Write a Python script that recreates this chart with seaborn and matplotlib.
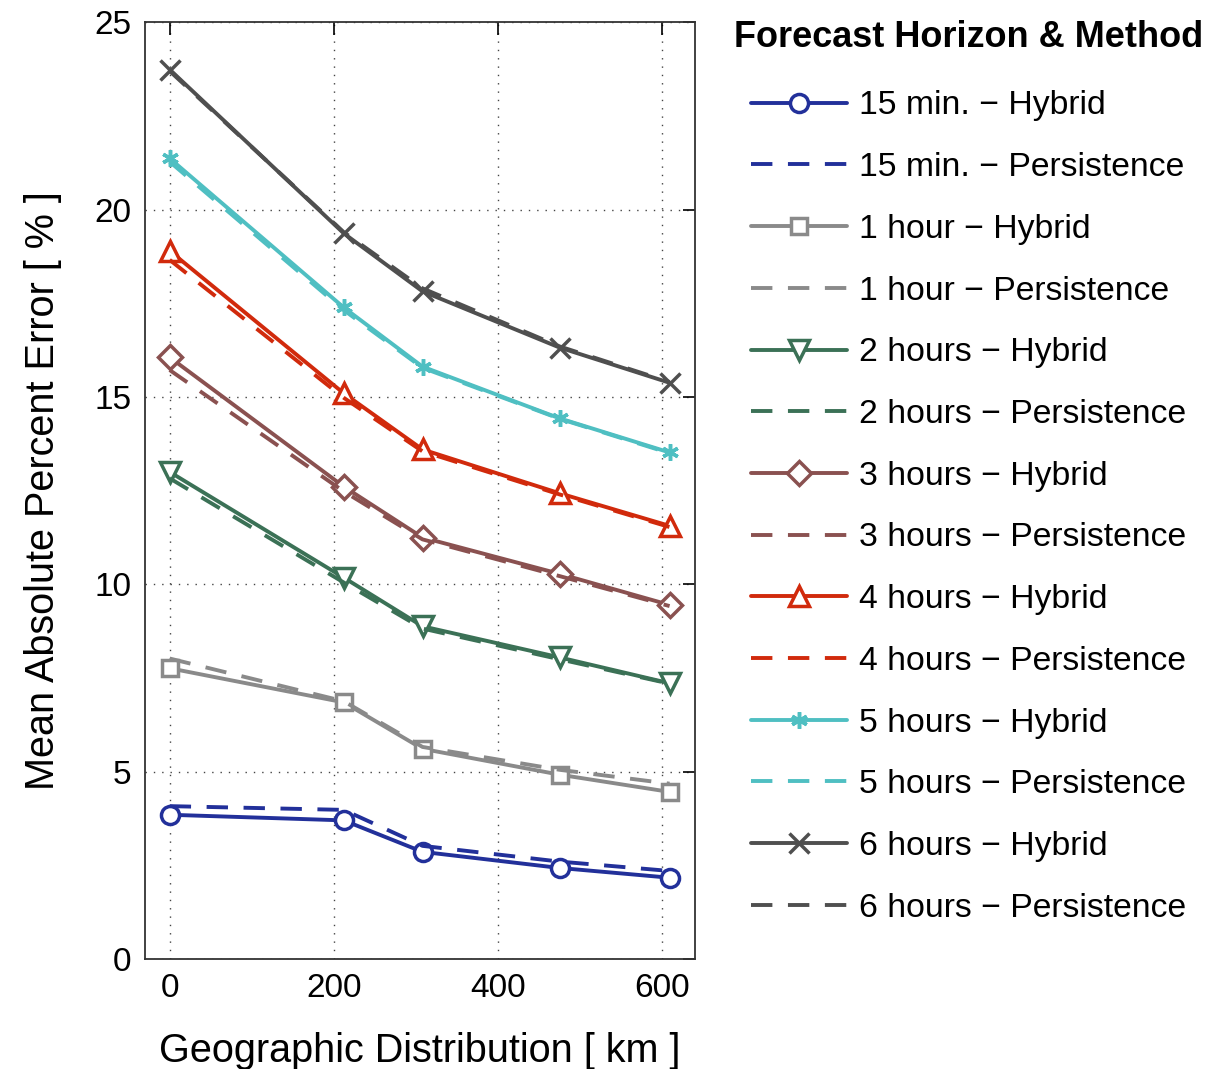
import matplotlib
matplotlib.use("Agg")
import matplotlib.pyplot as plt
import seaborn as sns

# Geographic distribution [km] and mean absolute percent error [%]
distance_km = [0, 212, 308, 475, 609]

horizons = ["15 min.", "1 hour", "2 hours", "3 hours", "4 hours", "5 hours", "6 hours"]

hybrid_15min = [3.85, 3.70, 2.86, 2.43, 2.17]
persist_15min = [4.08, 3.98, 3.02, 2.60, 2.35]
hybrid_1h = [7.76, 6.85, 5.61, 4.92, 4.46]
persist_1h = [8.02, 6.88, 5.66, 5.05, 4.68]
hybrid_2h = [13.00, 10.18, 8.88, 8.05, 7.36]
persist_2h = [12.83, 10.05, 8.82, 8.00, 7.35]
hybrid_3h = [16.06, 12.61, 11.25, 10.28, 9.45]
persist_3h = [15.72, 12.48, 11.20, 10.22, 9.42]
hybrid_4h = [18.90, 15.10, 13.60, 12.43, 11.56]
persist_4h = [18.66, 14.98, 13.55, 12.40, 11.53]
hybrid_5h = [21.37, 17.39, 15.81, 14.43, 13.52]
persist_5h = [21.28, 17.32, 15.78, 14.42, 13.50]
hybrid_6h = [23.74, 19.37, 17.82, 16.32, 15.38]
persist_6h = [23.70, 19.40, 17.90, 16.35, 15.40]

hybrid_values = [hybrid_15min, hybrid_1h, hybrid_2h, hybrid_3h, hybrid_4h, hybrid_5h, hybrid_6h]
persist_values = [persist_15min, persist_1h, persist_2h, persist_3h, persist_4h, persist_5h, persist_6h]

colors = ["#22309a", "#8a8a8a", "#3b7156", "#8a5150", "#d12a0c", "#4fbfc2", "#4f4f4f"]
markers = ["o", "s", "v", "D", "^", (6, 2, 0), "x"]
marker_sizes = [13, 12, 15, 12, 15, 12, 15]

sns.set_style("white")
plt.rcParams["font.family"] = ["Liberation Sans", "DejaVu Sans"]
plt.rcParams["text.color"] = "black"
plt.rcParams["axes.labelcolor"] = "black"

fig = plt.figure(figsize=(12.23, 10.69), dpi=100)
ax = fig.add_axes([0.1186, 0.1029, 0.4497, 0.8762])

for name, hyb, per, col, mk, ms in zip(horizons, hybrid_values, persist_values,
                                      colors, markers, marker_sizes):
    sns.lineplot(x=distance_km, y=hyb, ax=ax, color=col, linewidth=2.8,
                 marker=mk, markersize=ms, markerfacecolor="white",
                 markeredgecolor=col, markeredgewidth=2.5,
                 label=f"{name} \u2212 Hybrid")
    sns.lineplot(x=distance_km, y=per, ax=ax, color=col, linewidth=2.8,
                 dashes=(5.5, 4), label=f"{name} \u2212 Persistence")

# MATLAB-ish axes
ax.set_xlim(-30, 640)
ax.set_ylim(0, 25)
ax.set_xticks([0, 200, 400, 600])
ax.set_yticks([0, 5, 10, 15, 20, 25])
ax.grid(True, linestyle=(0, (1, 5)), color="#444444", linewidth=1.0)
ax.tick_params(direction="in", length=9, width=1.2, top=True, right=True,
               labelsize=24, pad=10, colors="black")
for sp in ax.spines.values():
    sp.set_color("#333333")
    sp.set_linewidth(1.3)

ax.set_xlabel("Geographic Distribution [ km ]", fontsize=28.5, labelpad=20)
ax.set_ylabel("Mean Absolute Percent Error [ % ]", fontsize=28.5, labelpad=23)

leg = ax.legend(loc="upper left", bbox_to_anchor=(0.5894, 0.994), bbox_transform=fig.transFigure,
                frameon=False, fontsize=24.3, title="Forecast Horizon & Method",
                title_fontproperties={"size": 26, "weight": "bold"},
                handlelength=2.85, handletextpad=0.35, labelspacing=0.91,
                borderaxespad=0, alignment="left")
# indent entries under the title, as in the original
leg._legend_handle_box.pad = 12
leg._legend_box.sep = 13.6

fig.savefig("out.png", dpi=100)
